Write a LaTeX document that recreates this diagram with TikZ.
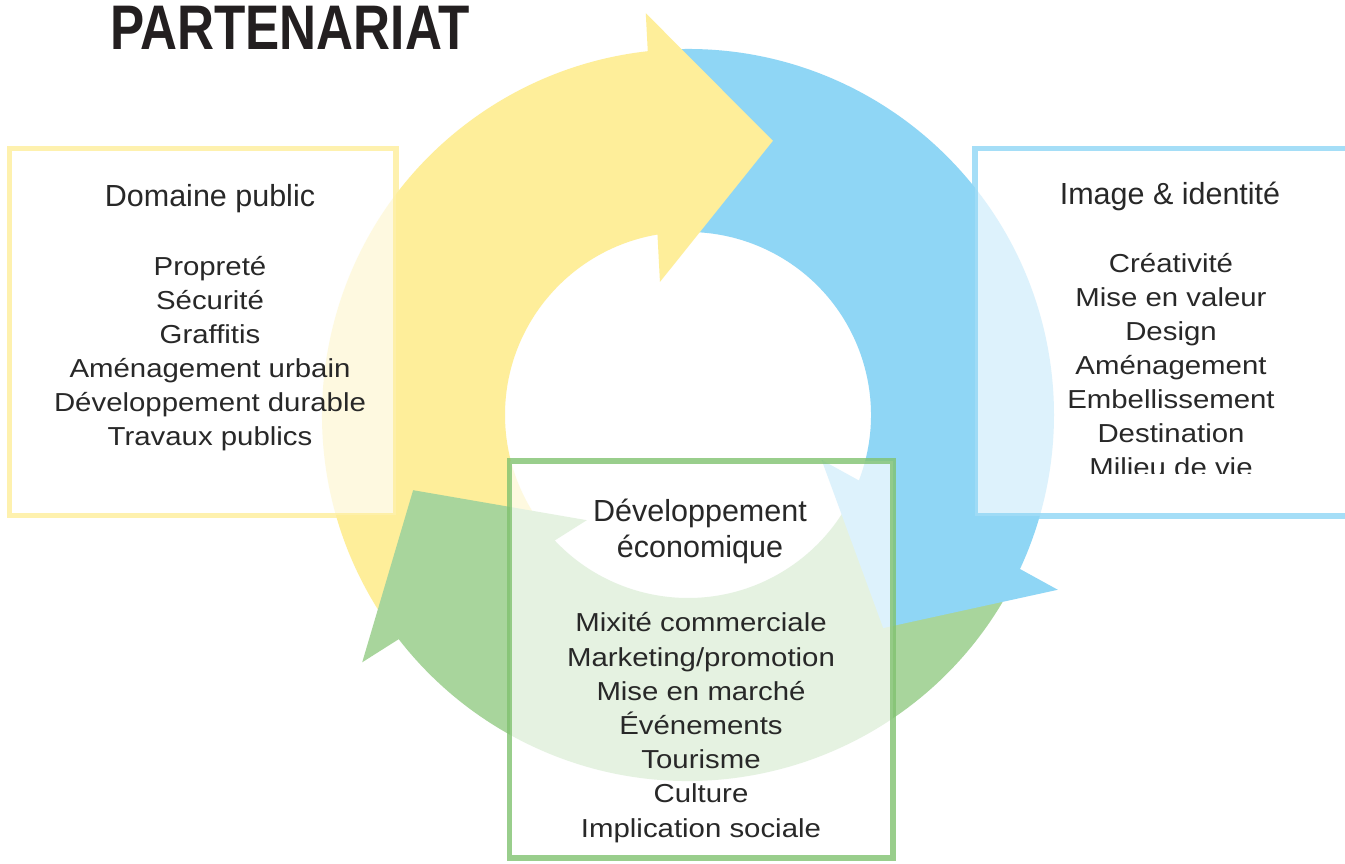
\documentclass[tikz,border=0pt]{standalone}
\usepackage{fontspec}
\setmainfont{Liberation Sans}
\usepackage{graphicx}
\usetikzlibrary{calc}
\definecolor{yel}{RGB}{254,238,154}
\definecolor{blu}{RGB}{143,214,245}
\definecolor{grn}{RGB}{168,213,156}
\definecolor{grnb}{RGB}{128,194,112}
\definecolor{txt}{RGB}{40,40,40}
\definecolor{ttl}{RGB}{35,31,32}
\newcommand\ringshaft[3]{\fill[#1] ($(C)+(#2:366)$) arc[start angle=#2, end angle=#3, radius=366] -- ($(C)+(#3:183)$) arc[start angle=#3, end angle=#2, radius=183] -- cycle;}
\newcommand\ringhead[7]{\fill[#1] ($(C)+(#2:#3)$) -- ($(C)+(#4:#5)$) -- ($(C)+(#6:#7)$) -- cycle;}
\tikzset{
  boxframe/.style={line width=5.5pt, fill=white, fill opacity=0.7, draw opacity=0.8},
  head/.style={anchor=base, inner sep=0pt, text=txt, font=\fontsize{30.5}{36}\selectfont},
  item/.style={anchor=base, inner sep=0pt, text=txt, font=\fontsize{26}{34}\selectfont},
}
\begin{document}
\begin{tikzpicture}[x=1pt,y=1pt]
\useasboundingbox (0,0) rectangle (1345,864);
\clip (0,0) rectangle (1345,864);
\fill[white] (0,0) rectangle (1345,864);
\coordinate (C) at (688,449);
% shafts
\ringshaft{yel}{215.2}{94}
\ringshaft{blu}{94}{-27.3}
\ringshaft{grn}{332.7}{215.2}
% heads
\ringhead{yel}{96}{404}{72.8}{287}{101.9}{136}
\ringhead{blu}{-25.3}{409}{-47.5}{289}{-18.6}{141}
\ringhead{grn}{217.2}{409}{195.3}{285}{226.1}{146}
% boxes
\draw[boxframe, draw=yel] (9.5,348.5) rectangle (396,715.5);
\draw[boxframe, draw=blu] (975,348) rectangle (1370,715.5);
\draw[boxframe, draw=grnb] (509.5,6) rectangle (893,403);
% title
\node[anchor=base west, inner sep=0pt, text=ttl] (title) at (110,814)
  {\scalebox{0.813}[1]{\fontsize{63}{63}\selectfont\bfseries PARTENARIAT}};
% headings
\node[head] (h1) at (210,657) {Domaine public};
\node[head] (h2) at (1170,659) {Image \& identité};
\node[head] (h3a) at (700,342) {Développement};
\node[head] (h3b) at (700,306) {économique};
% lists
\foreach \t [count=\i] in {Propreté, Sécurité, Graffitis, Aménagement urbain, Développement durable, Travaux publics}
  \node[item] (dp\i) at (210,{588-34*(\i-1)}) {\scalebox{1.13}[1]{\t}};
\begin{scope}
\clip (900,390.5) rectangle (1345,720);
\foreach \t [count=\i] in {Créativité, Mise en valeur, Design, Aménagement, Embellissement, Destination, Milieu de vie}
  \node[item] (ii\i) at (1171,{591-34*(\i-1)}) {\scalebox{1.13}[1]{\t}};
\end{scope}
\foreach \t [count=\i] in {Mixité commerciale, Marketing/promotion, Mise en marché, Événements, Tourisme, Culture, Implication sociale}
  \node[item] (de\i) at (701,{232-34.2*(\i-1)}) {\scalebox{1.13}[1]{\t}};
\end{tikzpicture}
\end{document}
